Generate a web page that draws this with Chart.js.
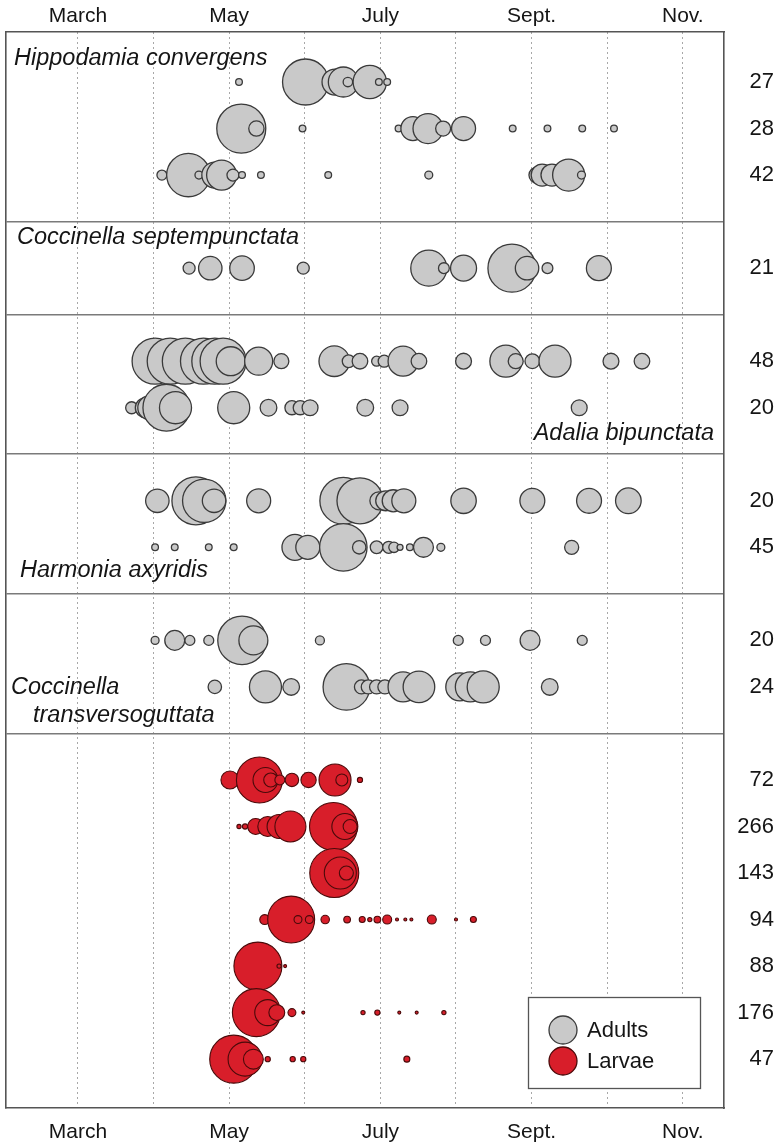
<!DOCTYPE html>
<html>
<head>
<meta charset="utf-8">
<script src="https://cdn.jsdelivr.net/npm/chart.js@4.4.1/dist/chart.umd.min.js"></script>
<style>
  html, body { margin: 0; padding: 0; background: #ffffff; }
  #wrap { width: 774px; height: 1144px; }
</style>
</head>
<body>
<div id="wrap"><canvas id="phenology" width="774" height="1144"></canvas></div>
<script>
// Month axis: tick positions (month number) and the labels printed at them
const monthTicks  = [3, 4, 5, 6, 7, 8, 9, 10, 11];
const monthLabels = ['March', '', 'May', '', 'July', '', 'Sept.', '', 'Nov.'];

// Each row: [date as fractional month, individuals counted]
// Adults
const hippodamia1 = [[5.13,5],[6.01,235],[6.40,75],[6.51,100],[6.57,10],[6.86,124],[6.98,5],[7.09,5]];
const hippodamia2 = [[5.16,267],[5.36,26],[5.97,5],[7.24,5],[7.43,64],[7.63,100],[7.83,25],[8.10,64],[8.75,5],[9.21,5],[9.67,5],[10.09,5]];
const hippodamia3 = [[4.11,11],[4.46,209],[4.60,7],[4.81,75],[4.90,100],[5.05,16],[5.17,5],[5.42,5],[6.31,5],[7.64,7],[9.07,28],[9.14,54],[9.27,54],[9.49,114],[9.66,7]];
const septempunctata = [[4.47,16],[4.75,61],[5.17,67],[5.98,16],[7.64,144],[7.84,13],[8.10,75],[8.74,256],[8.94,61],[9.21,13],[9.89,69]];
const bipunctata1 = [[4.02,235],[4.22,235],[4.42,235],[4.66,235],[4.81,235],[4.92,235],[5.02,93],[5.39,87],[5.69,25],[6.39,104],[6.58,18],[6.73,27],[6.95,11],[7.05,16],[7.30,100],[7.51,27],[8.10,28],[8.66,114],[8.79,25],[9.01,24],[9.31,114],[10.05,28],[10.46,27]];
const bipunctata2 = [[3.71,16],[3.89,44],[3.95,64],[4.17,245],[4.29,114],[5.06,114],[5.52,31],[5.83,22],[5.94,22],[6.07,28],[6.80,31],[7.26,28],[9.63,28]];
const axyridis1 = [[4.05,61],[4.56,256],[4.67,209],[4.80,61],[5.39,64],[6.51,245],[6.73,235],[6.98,36],[7.07,44],[7.17,54],[7.31,64],[8.10,72],[9.01,69],[9.76,69],[10.28,73]];
const axyridis2 = [[4.02,5],[4.28,5],[4.73,5],[5.06,5],[5.87,75],[6.04,64],[6.51,250],[6.72,20],[6.95,18],[7.11,16],[7.18,12],[7.26,4],[7.39,5],[7.57,44],[7.80,7],[9.53,22]];
const transverso1 = [[4.02,7],[4.28,44],[4.48,11],[4.73,11],[5.17,262],[5.32,93],[6.20,9],[8.03,11],[8.39,11],[8.98,44],[9.67,11]];
const transverso2 = [[4.81,20],[5.48,114],[5.82,31],[6.55,241],[6.75,22],[6.84,22],[6.95,22],[7.06,22],[7.30,100],[7.51,111],[8.05,87],[8.19,100],[8.36,114],[9.24,31]];

// Larvae
const larvae72  = [[5.01,36],[5.40,235],[5.48,69],[5.55,22],[5.67,11],[5.83,20],[6.05,26],[6.40,114],[6.49,16],[6.73,3]];
const larvae266 = [[5.13,2],[5.21,3],[5.35,28],[5.51,44],[5.66,64],[5.81,107],[6.38,256],[6.53,75],[6.60,22]];
const larvae143 = [[6.39,267],[6.47,114],[6.55,22]];
const larvae94  = [[5.47,11],[5.82,245],[5.91,7],[6.06,7],[6.27,8],[6.56,5],[6.76,4],[6.86,2],[6.96,5],[7.09,9],[7.22,1],[7.33,1],[7.41,1],[7.68,9],[8.00,1],[8.23,4]];
const larvae88  = [[5.38,256],[5.66,2],[5.74,1]];
const larvae176 = [[5.36,256],[5.51,75],[5.63,28],[5.83,7],[5.98,1],[6.77,2],[6.96,3],[7.25,1],[7.48,1],[7.84,2]];
const larvae47  = [[5.06,256],[5.21,128],[5.32,44],[5.51,3],[5.84,3],[5.98,3],[7.35,4]];

const adultRows  = [hippodamia1, hippodamia2, hippodamia3, septempunctata, bipunctata1, bipunctata2, axyridis1, axyridis2, transverso1, transverso2];
const larvaeRows = [larvae72, larvae266, larvae143, larvae94, larvae88, larvae176, larvae47];

// Row slots on the vertical axis (panel separators sit on the gaps)
const adultSlots  = [0, 1, 2, 4, 6, 7, 9, 10, 12, 13];
const larvaeSlots = [15, 16, 17, 18, 19, 20, 21];
const panelBreaks = [3, 5, 8, 11, 14];

// Totals printed at the right end of every row
const rowTotals = [27, 28, 42, 21, 48, 20, 20, 45, 20, 24, 72, 266, 143, 94, 88, 176, 47];

const speciesNames = ['Hippodamia convergens', 'Coccinella septempunctata', 'Adalia bipunctata', 'Harmonia axyridis', 'Coccinella', 'transversoguttata'];
const seriesNames = ['Adults', 'Larvae'];

// ---- drawing ----
const FONT = '"Liberation Sans", Arial, Helvetica, sans-serif';
const INK = '#151515';
const ADULT_FILL = '#c9c9c9', ADULT_EDGE = '#3a3a3a';
const LARVA_FILL = '#d81e2a', LARVA_EDGE = '#4a0a0a';
const RADIUS_PER_ROOT = 1.5;   // bubble radius grows with the square root of the count

const rowSlots = adultSlots.concat(larvaeSlots);

function toBubbles(rows, slots) {
  return rows.flatMap((row, i) =>
    row.map(([month, count]) => ({ x: month, y: slots[i], r: RADIUS_PER_ROOT * Math.sqrt(count) })));
}

const X_MIN = 2.048, X_MAX = 11.545;
const Y_MIN = -1.075, Y_MAX = 22.05;

const speciesLabelPlugin = {
  id: 'speciesLabels',
  afterDatasetsDraw(chart) {
    const { ctx, chartArea: a } = chart;
    const y = chart.scales.y;
    const place = [
      { align: 'left',  x: a.left + 8,   slot: -0.36 },
      { align: 'left',  x: a.left + 11,  slot: 3.48 },
      { align: 'right', x: a.right - 10, slot: 7.70 },
      { align: 'left',  x: a.left + 14,  slot: 10.64 },
      { align: 'left',  x: a.left + 5,   slot: 13.16 },
      { align: 'left',  x: a.left + 27,  slot: 13.76 }
    ];
    ctx.save();
    ctx.fillStyle = INK;
    ctx.font = 'italic 23.5px ' + FONT;
    ctx.textBaseline = 'alphabetic';
    speciesNames.forEach((name, i) => {
      ctx.textAlign = place[i].align;
      ctx.fillText(name, place[i].x, y.getPixelForValue(place[i].slot));
    });
    ctx.restore();
  }
};

const boxLegendPlugin = {
  id: 'boxLegend',
  afterDatasetsDraw(chart) {
    const { ctx, chartArea: a } = chart;
    const w = 172, h = 91;
    const left = a.right - 196, top = a.bottom - 111;
    ctx.save();
    ctx.fillStyle = '#ffffff';
    ctx.fillRect(left, top, w, h);
    ctx.strokeStyle = '#555555';
    ctx.lineWidth = 1.3;
    ctx.strokeRect(left + 0.5, top + 0.5, w, h);
    chart.data.datasets.forEach((ds, i) => {
      const cy = top + 33 + i * 31;
      ctx.beginPath();
      ctx.arc(left + 35, cy, 14, 0, Math.PI * 2);
      ctx.fillStyle = ds.backgroundColor;
      ctx.fill();
      ctx.lineWidth = 1.3;
      ctx.strokeStyle = ds.borderColor;
      ctx.stroke();
      ctx.fillStyle = INK;
      ctx.font = '22px ' + FONT;
      ctx.textAlign = 'left';
      ctx.textBaseline = 'middle';
      ctx.fillText(ds.label, left + 59, cy + 1);
    });
    ctx.restore();
  }
};

const monthTickBuilder = s => { s.ticks = monthTicks.map(v => ({ value: v })); };
const monthLabel = (v, i) => monthLabels[i];
// fixed axis bands so the plot frame spans the full page width
const fixBand = size => s => {
  if (s.isHorizontal()) { s.height = size; } else { s.width = size; }
  s.paddingLeft = 0; s.paddingRight = 0; s.paddingTop = 0; s.paddingBottom = 0;
};

new Chart(document.getElementById('phenology'), {
  type: 'bubble',
  data: {
    datasets: [
      { label: seriesNames[0], data: toBubbles(adultRows, adultSlots),
        backgroundColor: ADULT_FILL, borderColor: ADULT_EDGE, borderWidth: 1.3 },
      { label: seriesNames[1], data: toBubbles(larvaeRows, larvaeSlots),
        backgroundColor: LARVA_FILL, borderColor: LARVA_EDGE, borderWidth: 1.1 }
    ]
  },
  options: {
    responsive: false,
    animation: false,
    events: [],
    layout: { padding: 0, autoPadding: false },
    plugins: { legend: { display: false }, tooltip: { enabled: false } },
    scales: {
      x: {
        type: 'linear', position: 'bottom', min: X_MIN, max: X_MAX, bounds: 'data',
        afterBuildTicks: monthTickBuilder,
        afterFit: fixBand(36),
        ticks: { autoSkip: false, maxRotation: 0, padding: 12, color: INK, font: { family: FONT, size: 21 }, callback: monthLabel },
        grid: { color: '#a8a8a8', lineWidth: 1, drawTicks: false },
        border: { display: true, color: '#555555', width: 1.6, dash: [2, 3] }
      },
      xTop: {
        type: 'linear', position: 'top', min: X_MIN, max: X_MAX, bounds: 'data',
        afterBuildTicks: monthTickBuilder,
        afterFit: fixBand(32),
        ticks: { autoSkip: false, maxRotation: 0, padding: 3, color: INK, font: { family: FONT, size: 21 }, callback: monthLabel },
        grid: { display: false, drawTicks: false },
        border: { display: true, color: '#555555', width: 1.6 }
      },
      y: {
        type: 'linear', position: 'right', min: Y_MIN, max: Y_MAX, reverse: true, bounds: 'data',
        afterBuildTicks: s => { s.ticks = rowSlots.map(v => ({ value: v })); },
        afterFit: fixBand(50),
        ticks: { autoSkip: false, crossAlign: 'far', padding: 11, color: INK, font: { family: FONT, size: 22 },
                 callback: (v, i) => String(rowTotals[i]) },
        grid: { display: false, drawTicks: false },
        border: { display: true, color: '#555555', width: 1.6 }
      },
      ySep: {
        type: 'linear', position: 'left', min: Y_MIN, max: Y_MAX, reverse: true, bounds: 'data',
        afterBuildTicks: s => { s.ticks = panelBreaks.map(v => ({ value: v })); },
        afterFit: fixBand(6),
        ticks: { display: false },
        grid: { color: '#7a7a7a', lineWidth: 1.6, drawTicks: false },
        border: { display: true, color: '#555555', width: 1.6 }
      }
    }
  },
  plugins: [speciesLabelPlugin, boxLegendPlugin]
});
</script>
</body>
</html>
